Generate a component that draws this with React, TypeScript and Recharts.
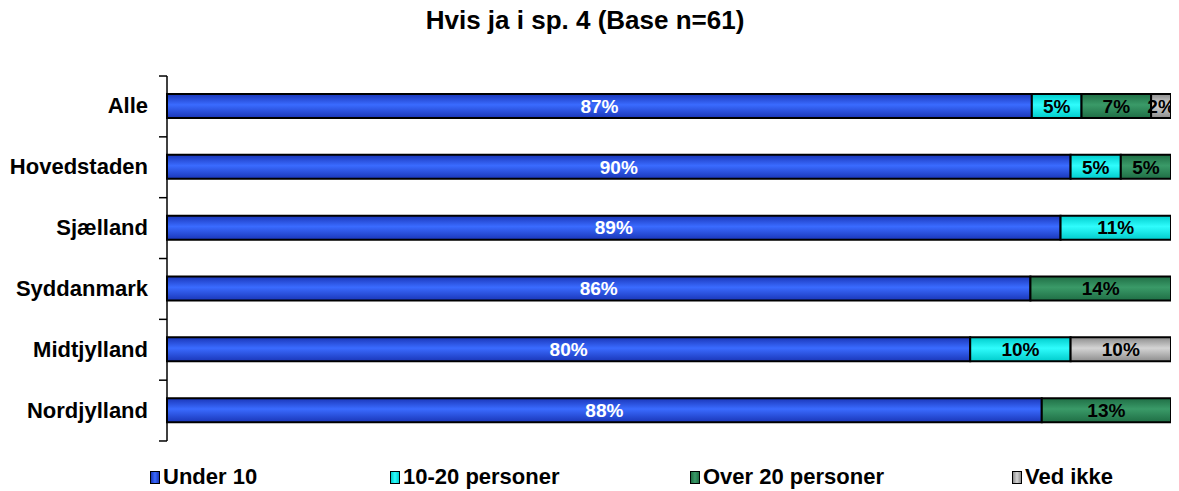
import React from 'react';
import { BarChart, Bar, XAxis, YAxis, LabelList } from 'recharts';

// 100% stacked chart: row totals can be 101 because of rounding
const regions = ['Alle', 'Hovedstaden', 'Sjælland', 'Syddanmark', 'Midtjylland', 'Nordjylland'];
const under10 = [87, 90, 89, 86, 80, 88];
const from10to20 = [5, 5, 11, 0, 10, 0];
const over20 = [7, 5, 0, 14, 0, 13];
const vedIkke = [2, 0, 0, 0, 10, 0];

const seriesNames = ['Under 10', '10-20 personer', 'Over 20 personer', 'Ved ikke'];
const seriesKeys = ['under10', 'from10to20', 'over20', 'vedIkke'];

const data = regions.map((region, i) => ({
  region,
  under10: under10[i],
  from10to20: from10to20[i],
  over20: over20[i],
  vedIkke: vedIkke[i],
}));

const colors = [
  { id: 'gBlue', edge: '#1a36b8', mid: '#3a6bff' },
  { id: 'gCyan', edge: '#00cccc', mid: '#2ffcfc' },
  { id: 'gGreen', edge: '#1f6e45', mid: '#3a9a68' },
  { id: 'gGrey', edge: '#8c8c8c', mid: '#d4d4d4' },
];

const labelColors = ['#ffffff', '#000000', '#000000', '#000000'];
const legendLeft = [150, 390, 690, 1012];

const font = '"Liberation Sans", Arial, sans-serif';

const fmt = (v: any) => (v ? `${v}%` : '');

const RegionTick = (props: any) => {
  const { y, payload, index } = props;
  const axisX = 167;
  const band = 60.8;
  return (
    <g>
      <text x={148} y={y} dy={7} textAnchor="end" fontWeight="bold" fontSize={22} fontFamily={font} fill="#000">
        {payload.value}
      </text>
      <line x1={axisX - 8} x2={axisX} y1={y - band / 2} y2={y - band / 2} stroke="#000" strokeWidth={1.5} />
      {index === regions.length - 1 && (
        <line x1={axisX - 8} x2={axisX} y1={y + band / 2} y2={y + band / 2} stroke="#000" strokeWidth={1.5} />
      )}
    </g>
  );
};

export default function App() {
  return (
    <div style={{ position: 'relative', width: 1179, height: 491, margin: '-8px 0 0 -8px', fontFamily: font, background: '#fff' }}>
      <div style={{ position: 'absolute', top: 5, left: 0, width: 1170, textAlign: 'center', fontWeight: 'bold', fontSize: 26 }}>
        Hvis ja i sp. 4 (Base n=61)
      </div>
      <BarChart
        layout="vertical"
        width={1179}
        height={491}
        data={data}
        stackOffset="expand"
        margin={{ top: 76, right: 8, bottom: 50, left: 0 }}
        barCategoryGap={18}
      >
        <defs>
          {colors.map((c) => (
            <linearGradient key={c.id} id={c.id} x1="0" y1="0" x2="0" y2="1">
              <stop offset="0%" stopColor={c.edge} />
              <stop offset="45%" stopColor={c.mid} />
              <stop offset="100%" stopColor={c.edge} />
            </linearGradient>
          ))}
        </defs>
        <XAxis type="number" domain={[0, 1]} hide />
        <YAxis
          type="category"
          dataKey="region"
          width={167}
          axisLine={{ stroke: '#000', strokeWidth: 1.5 }}
          tickLine={false}
          tick={<RegionTick />}
        />
        {seriesKeys.map((key, i) => (
          <Bar
            key={key}
            dataKey={key}
            name={seriesNames[i]}
            stackId="a"
            fill={`url(#${colors[i].id})`}
            stroke="#000"
            strokeWidth={2}
            barSize={24}
            isAnimationActive={false}
          >
            <LabelList
              dataKey={key}
              position="center"
              formatter={fmt}
              fill={labelColors[i]}
              fontWeight="bold"
              fontSize={19}
              fontFamily={font}
            />
          </Bar>
        ))}
      </BarChart>
      {seriesNames.map((name, i) => (
        <div
          key={name}
          style={{ position: 'absolute', top: 465, left: legendLeft[i], display: 'flex', alignItems: 'center', fontWeight: 'bold', fontSize: 22, lineHeight: '24px' }}
        >
          <span
            style={{
              display: 'inline-block',
              width: 8,
              height: 11,
              border: '1.5px solid #000',
              background: `linear-gradient(to right, ${colors[i].edge}, ${colors[i].mid}, ${colors[i].edge})`,
              marginRight: 3,
            }}
          />
          {name}
        </div>
      ))}
    </div>
  );
}
